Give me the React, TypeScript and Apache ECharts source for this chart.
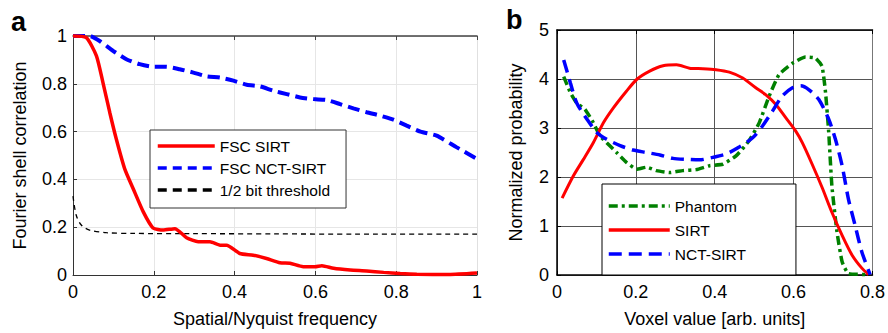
import React, { useEffect, useRef } from "react";
import * as echarts from "echarts";

// ---------- Panel a: Fourier shell correlation ----------
const fscSirtX = [0, 0.033, 0.058, 0.074, 0.091, 0.107, 0.128, 0.149, 0.174, 0.198, 0.223, 0.252, 0.281, 0.31, 0.339, 0.364, 0.38, 0.413, 0.446, 0.479, 0.512, 0.537, 0.57, 0.599, 0.616, 0.645, 0.686, 0.727, 0.769, 0.81, 0.851, 0.93, 1.0];
const fscSirtY = [1.0, 0.993, 0.917, 0.806, 0.68, 0.57, 0.444, 0.361, 0.264, 0.197, 0.188, 0.194, 0.156, 0.139, 0.139, 0.125, 0.125, 0.09, 0.083, 0.069, 0.051, 0.049, 0.035, 0.035, 0.039, 0.028, 0.021, 0.017, 0.011, 0.006, 0.003, 0.002, 0.008];

const fscNctX = [0, 0.041, 0.066, 0.099, 0.132, 0.165, 0.198, 0.231, 0.264, 0.298, 0.331, 0.364, 0.397, 0.43, 0.463, 0.496, 0.529, 0.562, 0.595, 0.628, 0.661, 0.694, 0.727, 0.76, 0.793, 0.826, 0.86, 0.9, 0.949, 1.0];
const fscNctY = [1.0, 1.0, 0.979, 0.938, 0.903, 0.882, 0.871, 0.871, 0.861, 0.847, 0.831, 0.826, 0.813, 0.796, 0.789, 0.771, 0.757, 0.743, 0.736, 0.732, 0.715, 0.697, 0.681, 0.667, 0.65, 0.625, 0.6, 0.583, 0.535, 0.486];

const halfBitX = [0, 0.008, 0.021, 0.041, 0.083, 0.149, 0.3, 0.5, 0.7, 1.0];
const halfBitY = [0.33, 0.25, 0.208, 0.188, 0.177, 0.174, 0.173, 0.172, 0.171, 0.171];

const aTicksX = [0, 0.2, 0.4, 0.6, 0.8, 1];
const aTicksY = [0, 0.2, 0.4, 0.6, 0.8, 1];

// ---------- Panel b: voxel value histograms ----------
const phantomX = [0.017, 0.034, 0.05, 0.071, 0.092, 0.109, 0.126, 0.151, 0.176, 0.202, 0.227, 0.252, 0.286, 0.319, 0.353, 0.387, 0.42, 0.454, 0.487, 0.513, 0.538, 0.563, 0.597, 0.63, 0.655, 0.672, 0.681, 0.689, 0.697, 0.71, 0.723, 0.739, 0.79];
const phantomY = [4.05, 3.72, 3.51, 3.38, 3.11, 2.84, 2.7, 2.5, 2.3, 2.16, 2.2, 2.13, 2.09, 2.13, 2.15, 2.23, 2.26, 2.43, 2.74, 3.11, 3.65, 4.09, 4.32, 4.45, 4.43, 4.26, 3.72, 2.91, 1.82, 0.88, 0.27, 0.03, 0.01];

const sirtX = [0.013, 0.042, 0.067, 0.092, 0.118, 0.143, 0.176, 0.202, 0.235, 0.269, 0.303, 0.336, 0.37, 0.403, 0.437, 0.471, 0.504, 0.529, 0.555, 0.58, 0.605, 0.622, 0.647, 0.672, 0.697, 0.723, 0.748, 0.773, 0.79];
const sirtY = [1.57, 2.03, 2.36, 2.7, 3.11, 3.41, 3.75, 3.99, 4.16, 4.27, 4.29, 4.22, 4.21, 4.19, 4.14, 4.02, 3.82, 3.68, 3.48, 3.21, 2.94, 2.7, 2.26, 1.79, 1.28, 0.81, 0.41, 0.14, 0.01];

const nctX = [0.017, 0.034, 0.05, 0.076, 0.101, 0.126, 0.16, 0.193, 0.227, 0.261, 0.294, 0.328, 0.361, 0.395, 0.429, 0.462, 0.496, 0.521, 0.546, 0.571, 0.597, 0.618, 0.639, 0.664, 0.689, 0.706, 0.723, 0.739, 0.756, 0.773, 0.794];
const nctY = [4.39, 3.92, 3.51, 3.18, 2.91, 2.77, 2.64, 2.55, 2.5, 2.45, 2.38, 2.36, 2.35, 2.4, 2.47, 2.61, 2.8, 3.04, 3.34, 3.65, 3.82, 3.86, 3.78, 3.58, 3.18, 2.77, 2.23, 1.55, 1.01, 0.47, 0.01];

const bTicksX = [0, 0.2, 0.4, 0.6, 0.8];
const bTicksY = [0, 1, 2, 3, 4, 5];

const zip = (xs: number[], ys: number[]) => xs.map((x, i) => [x, ys[i]]);

const FONT = "Liberation Sans";
const HIDDEN_SYMBOL = { color: "rgba(0,0,0,0)", borderWidth: 0, opacity: 0 };

export default function App() {
  const ref = useRef<HTMLDivElement>(null);

  useEffect(() => {
    if (!ref.current) return;
    const chart = echarts.init(ref.current, null, { renderer: "svg" });

    const labelStyle = { fontFamily: FONT, fontSize: 18, color: "#000" };
    const nameStyle = { fontFamily: FONT, fontSize: 18, color: "#000" };

    const option: any = {
      animation: false,
      backgroundColor: "#fff",
      textStyle: { fontFamily: FONT },
      grid: [
        { left: 73, top: 36, width: 404, height: 241 },
        { left: 557, top: 30, width: 318, height: 247 },
      ],
      xAxis: [
        {
          gridIndex: 0, type: "value", min: aTicksX[0], max: aTicksX[aTicksX.length - 1], interval: 0.2,
          name: "Spatial/Nyquist frequency", nameLocation: "middle", nameGap: 35, nameTextStyle: nameStyle,
          axisLine: { show: true, onZero: false, lineStyle: { color: "#333", width: 1 } },
          axisTick: { show: true, inside: true, length: 4, lineStyle: { color: "#333" } },
          axisLabel: { ...labelStyle, margin: 8 },
          splitLine: { show: true, lineStyle: { color: "#e6e6e6", width: 1 } },
        },
        {
          gridIndex: 0, type: "value", position: "top", min: 0, max: 1, interval: 0.2,
          axisLine: { show: true, onZero: false, lineStyle: { color: "#444", width: 1.5 } },
          axisTick: { show: true, inside: true, length: 4, lineStyle: { color: "#444" } },
          axisLabel: { show: false }, splitLine: { show: false },
        },
        {
          gridIndex: 1, type: "value", min: bTicksX[0], max: bTicksX[bTicksX.length - 1], interval: 0.2,
          name: "Voxel value [arb. units]", nameLocation: "middle", nameGap: 35, nameTextStyle: nameStyle,
          axisLine: { show: true, onZero: false, lineStyle: { color: "#000", width: 1.5 } },
          axisTick: { show: true, inside: true, length: 4, lineStyle: { color: "#000" } },
          axisLabel: { ...labelStyle, margin: 8 },
          splitLine: { show: true, lineStyle: { color: "#555", width: 1 } },
        },
        {
          gridIndex: 1, type: "value", position: "top", min: 0, max: 0.8, interval: 0.2,
          axisLine: { show: true, onZero: false, lineStyle: { color: "#000", width: 1.5 } },
          axisTick: { show: true, inside: true, length: 4, lineStyle: { color: "#000" } },
          axisLabel: { show: false }, splitLine: { show: false },
        },
      ],
      yAxis: [
        {
          gridIndex: 0, type: "value", min: aTicksY[0], max: aTicksY[aTicksY.length - 1], interval: 0.2,
          name: "Fourier shell correlation", nameLocation: "middle", nameGap: 44, nameTextStyle: nameStyle,
          axisLine: { show: true, onZero: false, lineStyle: { color: "#333", width: 1 } },
          axisTick: { show: true, inside: true, length: 4, lineStyle: { color: "#333" } },
          axisLabel: { ...labelStyle, margin: 6 },
          splitLine: { show: true, lineStyle: { color: "#e6e6e6", width: 1 } },
        },
        {
          gridIndex: 0, type: "value", position: "right", min: 0, max: 1, interval: 0.2,
          axisLine: { show: true, onZero: false, lineStyle: { color: "#e0e0e0", width: 1 } },
          axisTick: { show: false }, axisLabel: { show: false }, splitLine: { show: false },
        },
        {
          gridIndex: 1, type: "value", min: bTicksY[0], max: bTicksY[bTicksY.length - 1], interval: 1,
          name: "Normalized probability", nameLocation: "middle", nameGap: 32, nameTextStyle: nameStyle,
          axisLine: { show: true, onZero: false, lineStyle: { color: "#000", width: 1.5 } },
          axisTick: { show: true, inside: true, length: 4, lineStyle: { color: "#000" } },
          axisLabel: { ...labelStyle, margin: 8 },
          splitLine: { show: true, lineStyle: { color: "#555", width: 1 } },
        },
        {
          gridIndex: 1, type: "value", position: "right", min: 0, max: 5, interval: 1,
          axisLine: { show: true, onZero: false, lineStyle: { color: "#777", width: 1 } },
          axisTick: { show: false }, axisLabel: { show: false }, splitLine: { show: false },
        },
      ],
      legend: [
        {
          orient: "vertical", left: 150, top: 130,
          padding: [8, 16, 10, 6], itemGap: 6, itemWidth: 57, itemHeight: 16,
          backgroundColor: "#fff", borderColor: "#333", borderWidth: 1, borderRadius: 0,
          textStyle: { fontFamily: FONT, fontSize: 15.5, color: "#000" },
          itemStyle: HIDDEN_SYMBOL,
          data: [
            { name: "FSC SIRT", itemStyle: HIDDEN_SYMBOL, lineStyle: { color: "#ff0000", width: 3.5, type: "solid" } },
            { name: "FSC NCT-SIRT", itemStyle: HIDDEN_SYMBOL, lineStyle: { color: "#0000ff", width: 3.5, type: [9, 6] } },
            { name: "1/2 bit threshold", itemStyle: HIDDEN_SYMBOL, lineStyle: { color: "#000", width: 3.5, type: [9, 6] } },
          ],
        },
        {
          orient: "vertical", left: 602, top: 184,
          padding: [14, 50, 13, 5], itemGap: 8, itemWidth: 61, itemHeight: 16,
          backgroundColor: "#fff", borderColor: "#000", borderWidth: 1, borderRadius: 0,
          textStyle: { fontFamily: FONT, fontSize: 15.5, color: "#000" },
          itemStyle: HIDDEN_SYMBOL,
          data: [
            { name: "Phantom", itemStyle: HIDDEN_SYMBOL, lineStyle: { color: "#008000", width: 3.5, type: [9, 4, 3, 4] } },
            { name: "SIRT", itemStyle: HIDDEN_SYMBOL, lineStyle: { color: "#ff0000", width: 3.5, type: "solid" } },
            { name: "NCT-SIRT", itemStyle: HIDDEN_SYMBOL, lineStyle: { color: "#0000ff", width: 3.5, type: [13, 7] } },
          ],
        },
      ],
      graphic: [
        { type: "text", left: 11, top: 8, style: { text: "a", font: `bold 27px ${FONT}`, fill: "#000" } },
        { type: "text", left: 506, top: 6, style: { text: "b", font: `bold 27px ${FONT}`, fill: "#000" } },
      ],
      series: [
        {
          name: "1/2 bit threshold", type: "line", xAxisIndex: 0, yAxisIndex: 0, symbol: "none", clip: false, smooth: 0.3,
          data: zip(halfBitX, halfBitY), lineStyle: { color: "#000", width: 1.3, type: [5, 4] }, itemStyle: { color: "#000" },
        },
        {
          name: "FSC NCT-SIRT", type: "line", xAxisIndex: 0, yAxisIndex: 0, symbol: "none", clip: false, smooth: 0.2,
          data: zip(fscNctX, fscNctY), lineStyle: { color: "#0000ff", width: 4, type: [12, 6] }, itemStyle: { color: "#0000ff" },
        },
        {
          name: "FSC SIRT", type: "line", xAxisIndex: 0, yAxisIndex: 0, symbol: "none", clip: false, smooth: 0.2,
          data: zip(fscSirtX, fscSirtY), lineStyle: { color: "#ff0000", width: 3.5 }, itemStyle: { color: "#ff0000" },
        },
        {
          name: "Phantom", type: "line", xAxisIndex: 2, yAxisIndex: 2, symbol: "none", clip: false, smooth: 0.15,
          data: zip(phantomX, phantomY), lineStyle: { color: "#008000", width: 3.5, type: [9, 4, 3, 4] }, itemStyle: { color: "#008000" },
        },
        {
          name: "SIRT", type: "line", xAxisIndex: 2, yAxisIndex: 2, symbol: "none", clip: false, smooth: 0.25,
          data: zip(sirtX, sirtY), lineStyle: { color: "#ff0000", width: 3 }, itemStyle: { color: "#ff0000" },
        },
        {
          name: "NCT-SIRT", type: "line", xAxisIndex: 2, yAxisIndex: 2, symbol: "none", clip: false, smooth: 0.25,
          data: zip(nctX, nctY), lineStyle: { color: "#0000ff", width: 3.5, type: [13, 7] }, itemStyle: { color: "#0000ff" },
        },
      ],
    };

    chart.setOption(option);
    return () => chart.dispose();
  }, []);

  return (
    <div
      ref={ref}
      style={{ position: "absolute", left: 0, top: 0, width: 888, height: 333, background: "#fff" }}
    />
  );
}
